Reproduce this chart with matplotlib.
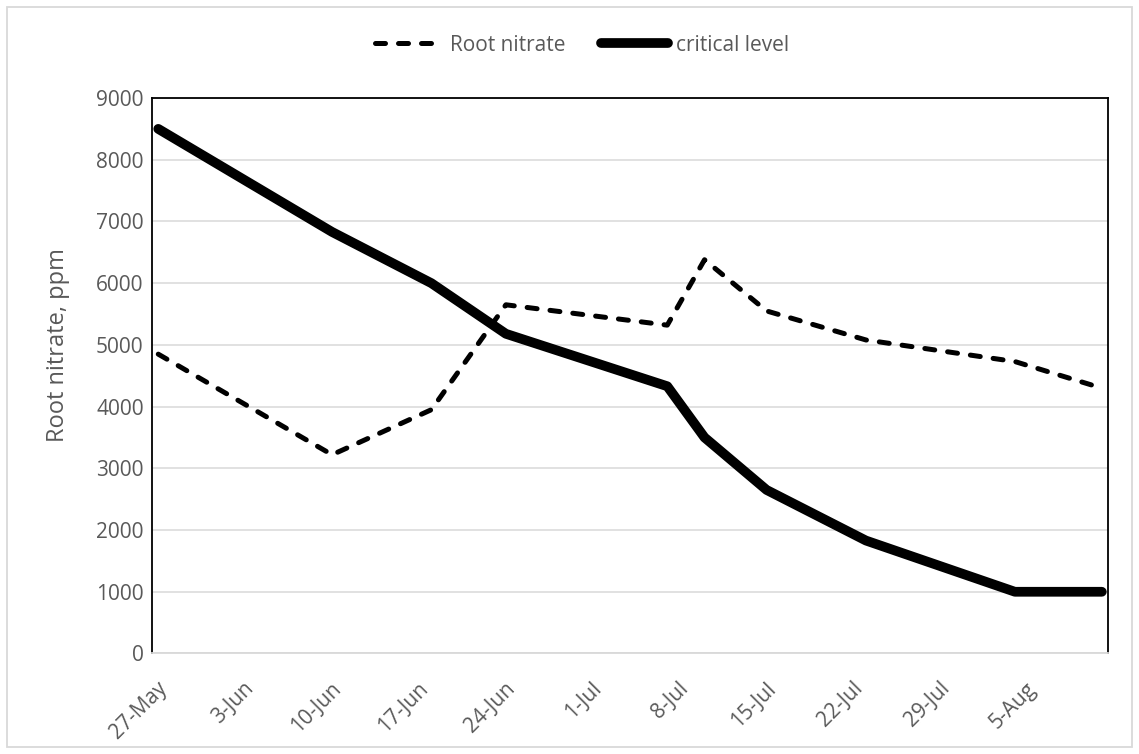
import datetime as dt
import matplotlib
matplotlib.use("Agg")
import matplotlib.pyplot as plt
import matplotlib.dates as mdates
from matplotlib.transforms import ScaledTranslation
from matplotlib.patches import Rectangle

# sampling dates and readings
dates = ["2019-05-27", "2019-06-10", "2019-06-18", "2019-06-24", "2019-07-07",
         "2019-07-10", "2019-07-15", "2019-07-23", "2019-08-04", "2019-08-11"]
root_nitrate = [4850, 3220, 3950, 5650, 5320, 6380, 5550, 5080, 4730, 4300]
critical_level = [8500, 6830, 6000, 5180, 4330, 3500, 2650, 1830, 1000, 1000]

tick_dates = ["2019-05-27", "2019-06-03", "2019-06-10", "2019-06-17", "2019-06-24",
              "2019-07-01", "2019-07-08", "2019-07-15", "2019-07-22", "2019-07-29",
              "2019-08-05"]
y_ticks = [0, 1000, 2000, 3000, 4000, 5000, 6000, 7000, 8000, 9000]

plt.rcParams['font.family'] = ['Open Sans', 'DejaVu Sans']
text_color = '#595959'

# points sit in the middle of their day, like a date axis "between tick marks"
x = [mdates.date2num(dt.datetime.fromisoformat(d)) + 0.5 for d in dates]
xt = [mdates.date2num(dt.datetime.fromisoformat(d)) for d in tick_dates]

fig = plt.figure(figsize=(11.39, 7.54), dpi=100)
ax = fig.add_axes([0.1335, 0.1333, 0.8393, 0.7367])

ax.plot(x, root_nitrate, color='black', lw=3.6, linestyle=(0, (2.0, 2.6)),
        dash_capstyle='round', solid_joinstyle='round', label='Root nitrate')
ax.plot(x, critical_level, color='black', lw=7, solid_capstyle='round',
        solid_joinstyle='round', label='critical level')

ax.set_xlim(xt[0], xt[0] + 77)
ax.set_ylim(0, 9000)
ax.set_yticks(y_ticks)
ax.set_xticks(xt)
ax.set_xticklabels([dt.datetime.fromisoformat(d).strftime('%-d-%b') for d in tick_dates])

ax.grid(axis='y', color='#d9d9d9', lw=1.1)
ax.set_axisbelow(True)
ax.tick_params(axis='both', length=0, labelsize=15, colors=text_color)
ax.tick_params(axis='y', pad=6)
ax.tick_params(axis='x', pad=23)
for lab in ax.get_xticklabels():
    lab.set_rotation(45)
    lab.set_ha('right')
    lab.set_va('center')
    lab.set_rotation_mode('anchor')
    lab.set_transform(lab.get_transform() + ScaledTranslation(0.12, 0, fig.dpi_scale_trans))

for side in ['left', 'top', 'right']:
    ax.spines[side].set_color('black')
    ax.spines[side].set_linewidth(1.3)
ax.spines['bottom'].set_color('#d9d9d9')
ax.spines['bottom'].set_linewidth(1.3)

ax.set_ylabel('Root nitrate, ppm', fontsize=17, color=text_color)
ax.yaxis.set_label_coords(-0.086, 0.555)

leg = ax.legend(loc='center', bbox_to_anchor=(0.45, 1.095), ncol=2, frameon=False,
                fontsize=15, handlelength=3.2, columnspacing=1.7, handletextpad=0.4)
for t in leg.get_texts():
    t.set_color(text_color)

# light frame round the whole chart area
fig.patches.append(Rectangle((0.006, 0.009), 0.988, 0.982, transform=fig.transFigure,
                             fill=False, edgecolor='#d9d9d9', lw=1.3))

fig.savefig('out.png', dpi=100)
